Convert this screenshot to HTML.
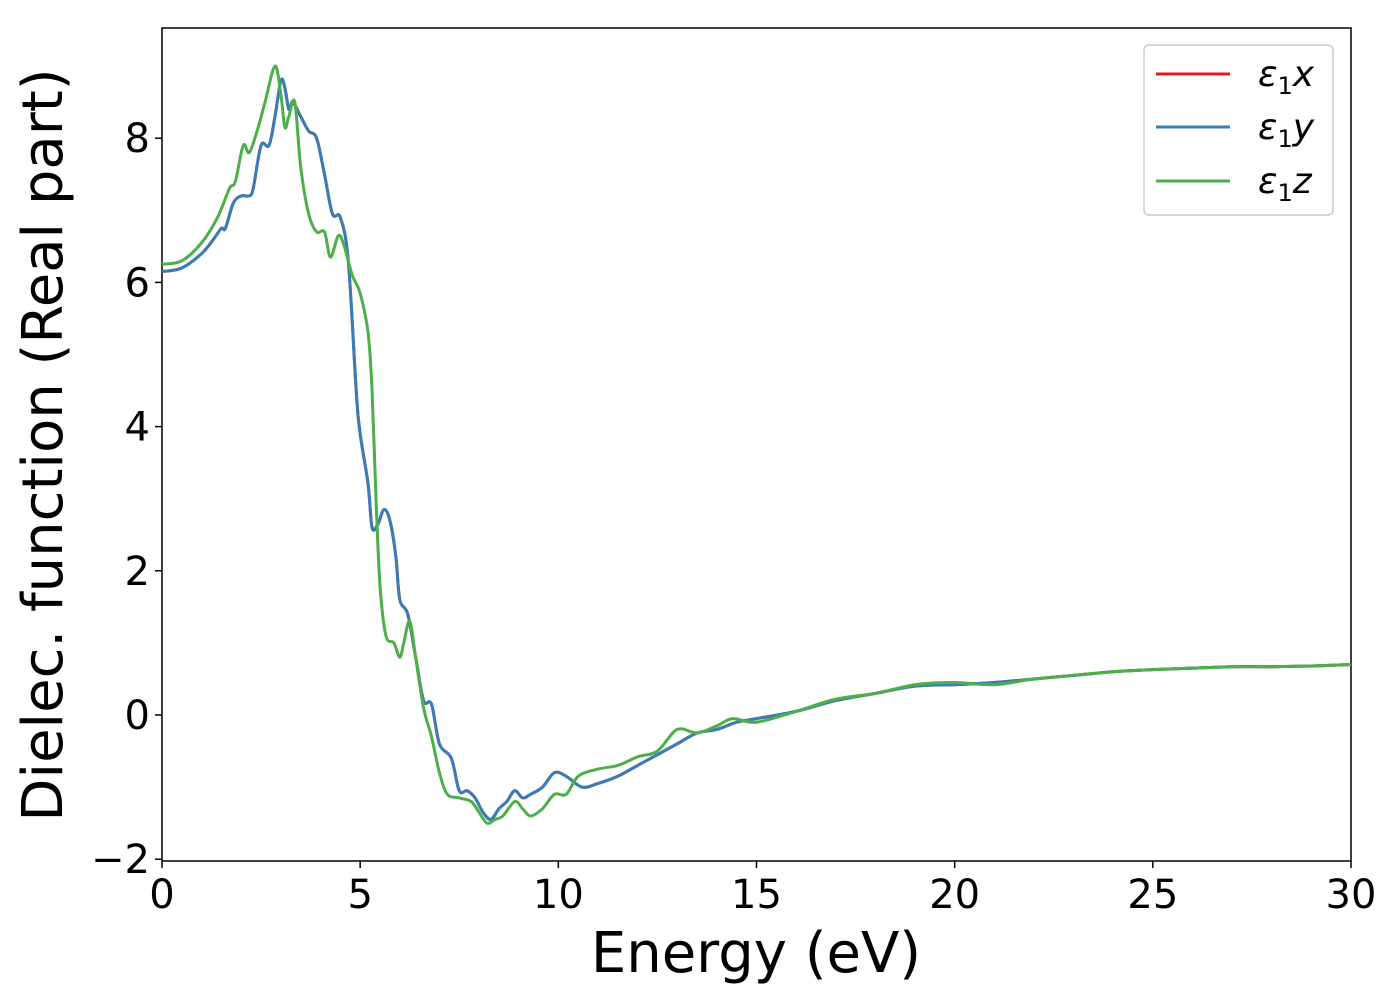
<!DOCTYPE html>
<html><head><meta charset="utf-8"><style>
body{margin:0;background:#fff;}
svg{display:block;font-family:"DejaVu Sans","Liberation Sans",sans-serif;}
</style></head><body>
<svg id="chart" width="1400" height="1000">
<rect x="162" y="28" width="1189" height="833" fill="#fff" stroke="#000" stroke-width="1.5"/>
<g id="ticks"></g>
<g id="series"></g>
<text x="756" y="972" font-size="56" text-anchor="middle">Energy (eV)</text>
<text transform="translate(62,445) rotate(-90)" font-size="56" text-anchor="middle">Dielec. function (Real part)</text>
<g>
<rect x="1144" y="45" width="189" height="170" rx="5" fill="#fff" stroke="#ccc" stroke-width="1.5"/>
<g><line x1="1156" y1="74" x2="1230" y2="74" stroke="#e41a1c" stroke-width="3"/><text x="1258" y="86" font-size="36"><tspan font-style="italic">ε</tspan><tspan font-size="24" dy="8">1</tspan><tspan font-style="italic" dy="-8">x</tspan></text></g>
<g><line x1="1156" y1="127" x2="1230" y2="127" stroke="#377eb8" stroke-width="3"/><text x="1258" y="139" font-size="36"><tspan font-style="italic">ε</tspan><tspan font-size="24" dy="8">1</tspan><tspan font-style="italic" dy="-8">y</tspan></text></g>
<g><line x1="1156" y1="181" x2="1230" y2="181" stroke="#4daf4a" stroke-width="3"/><text x="1258" y="193" font-size="36"><tspan font-style="italic">ε</tspan><tspan font-size="24" dy="8">1</tspan><tspan font-style="italic" dy="-8">z</tspan></text></g>
</g>
</svg>
<script>
const xyE=[0,0.5,1,1.3,1.5,1.6,1.8,2,2.2,2.3,2.5,2.7,2.85,3.0,3.1,3.2,3.3,3.5,3.7,3.9,4.1,4.3,4.5,4.7,4.9,5.0,5.2,5.3,5.45,5.6,5.75,5.9,6.0,6.2,6.4,6.6,6.8,7.0,7.3,7.5,7.7,7.9,8.1,8.3,8.5,8.7,8.9,9.1,9.3,9.6,9.9,10.2,10.6,11,11.5,12,12.5,13,13.5,14,14.5,15,16,17,18,19,20,21,22,23,24,25,26,27,28,29,30];
const xyV=[6.15,6.2,6.4,6.6,6.75,6.75,7.1,7.2,7.2,7.3,7.9,7.9,8.3,8.8,8.7,8.4,8.5,8.3,8.1,8.0,7.5,6.95,6.9,6.3,4.5,3.9,3.2,2.6,2.65,2.85,2.7,2.2,1.6,1.4,0.8,0.2,0.15,-0.4,-0.6,-1.05,-1.05,-1.15,-1.35,-1.45,-1.3,-1.2,-1.05,-1.15,-1.1,-1.0,-0.8,-0.85,-1.0,-0.95,-0.85,-0.7,-0.55,-0.4,-0.25,-0.2,-0.1,-0.05,0.05,0.2,0.3,0.4,0.42,0.45,0.5,0.55,0.6,0.63,0.65,0.67,0.67,0.68,0.7];
const zE=[0,0.5,1,1.4,1.7,1.85,2.05,2.2,2.4,2.6,2.85,3.0,3.1,3.2,3.35,3.5,3.7,3.9,4.1,4.25,4.45,4.6,4.8,5.0,5.2,5.3,5.4,5.5,5.65,5.85,6.0,6.1,6.25,6.4,6.6,6.8,7.0,7.2,7.5,7.8,8.0,8.2,8.4,8.6,8.9,9.1,9.3,9.6,9.9,10.2,10.5,11,11.5,12,12.5,13,13.5,14,14.4,15,16,17,18,19,20,21,22,23,24,25,26,27,28,29,30];
const zV=[6.25,6.3,6.55,6.9,7.3,7.4,7.9,7.8,8.1,8.5,9.0,8.6,8.15,8.3,8.5,7.6,6.95,6.7,6.7,6.35,6.65,6.5,6.1,5.85,5.3,4.5,3.0,1.8,1.1,1.0,0.8,1.0,1.3,0.8,0.1,-0.3,-0.8,-1.1,-1.15,-1.2,-1.35,-1.5,-1.45,-1.4,-1.2,-1.3,-1.4,-1.3,-1.1,-1.1,-0.85,-0.75,-0.7,-0.58,-0.5,-0.2,-0.25,-0.15,-0.05,-0.1,0.05,0.22,0.3,0.42,0.45,0.42,0.5,0.55,0.6,0.63,0.65,0.67,0.67,0.68,0.7];
const xTicks=[0,5,10,15,20,25,30];
const yTicks=[-2,0,2,4,6,8];
const X=e=>162+e*(1189/30);
const Y=v=>715-v*72.1;
const NS="http://www.w3.org/2000/svg";
const tg=document.getElementById('ticks');
xTicks.forEach(t=>{
 const l=document.createElementNS(NS,'line');
 l.setAttribute('x1',X(t));l.setAttribute('x2',X(t));l.setAttribute('y1',861);l.setAttribute('y2',868);l.setAttribute('stroke','#000');l.setAttribute('stroke-width','1.5');
 
 
 tg.appendChild(l);
 const s=document.createElementNS(NS,'text');
 s.setAttribute('x',X(t));s.setAttribute('y',908);s.setAttribute('font-size','40');s.setAttribute('text-anchor','middle');s.textContent=t;
 
 
 tg.appendChild(s);
});
yTicks.forEach(t=>{
 const l=document.createElementNS(NS,'line');
 l.setAttribute('x1',155);l.setAttribute('x2',162);l.setAttribute('y1',Y(t));l.setAttribute('y2',Y(t));l.setAttribute('stroke','#000');l.setAttribute('stroke-width','1.5');
 
 
 tg.appendChild(l);
 const s=document.createElementNS(NS,'text');
 s.setAttribute('x',150);s.setAttribute('y',Y(t)+14);s.setAttribute('font-size','40');s.setAttribute('text-anchor','end');s.textContent=t<0?'\u2212'+(-t):t;
 
 
 tg.appendChild(s);
});
function pathD(E,V){
 const p=E.map((e,i)=>[X(e),Y(V[i])]);
 let d='M'+p[0][0]+','+p[0][1];
 for(let i=0;i<p.length-1;i++){
  const p0=p[Math.max(0,i-1)],p1=p[i],p2=p[i+1],p3=p[Math.min(p.length-1,i+2)];
  const c1x=p1[0]+(p2[0]-p0[0])/6,c1y=p1[1]+(p2[1]-p0[1])/6;
  const c2x=p2[0]-(p3[0]-p1[0])/6,c2y=p2[1]-(p3[1]-p1[1])/6;
  d+=' C'+c1x+','+c1y+' '+c2x+','+c2y+' '+p2[0]+','+p2[1];
 }
 return d;
}
const sg=document.getElementById('series');
[[xyE,xyV,'#e41a1c','line-eps1-x'],[xyE,xyV,'#377eb8','line-eps1-y'],[zE,zV,'#4daf4a','line-eps1-z']].forEach(([E,V,c,n])=>{
 const p=document.createElementNS(NS,'path');
 p.setAttribute('d',pathD(E,V));p.setAttribute('fill','none');p.setAttribute('stroke',c);p.setAttribute('stroke-width','3');p.setAttribute('stroke-linejoin','round');
 
 
 sg.appendChild(p);
});
</script>
</body></html>
